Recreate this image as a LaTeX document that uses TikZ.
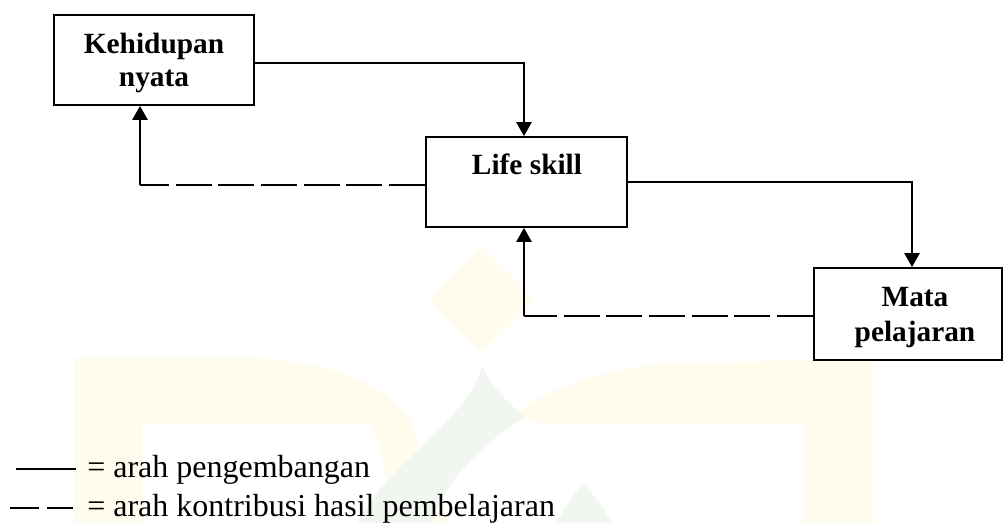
\documentclass[tikz,border=0pt]{standalone}
\usepackage{fontspec}
\setmainfont{Liberation Serif}
\usetikzlibrary{arrows.meta}
\definecolor{wmyellow}{RGB}{255,252,238}
\definecolor{wmgreen}{RGB}{241,247,240}
\tikzset{
  boxnode/.style={draw, line width=1.4pt, rectangle, inner sep=0pt},
  lbl/.style={inner sep=0pt, anchor=base, font=\fontsize{22}{26}\selectfont\bfseries},
  legtext/.style={inner sep=0pt, anchor=base west, font=\fontsize{24}{28}\selectfont},
  conn/.style={line width=1.25pt},
  arr/.style={conn, -{Triangle[length=10.5pt,width=11.5pt]}},
  dashconn/.style={conn, dash pattern=on 27pt off 5pt},
}
\begin{document}
\begin{tikzpicture}[x=0.75pt,y=-0.75pt]
\useasboundingbox (0,0) rectangle (1003,523);
% faint watermark
\fill[wmyellow] (482,247) -- (536,300) -- (482,352) -- (429,300) -- cycle;
\fill[wmyellow] (74,523) -- (74,358) -- (250,358) .. controls (330,360) and (390,385) .. (412,423) -- (142,423) -- (142,523) -- cycle;
\fill[wmyellow] (873,523) -- (873,360) -- (690,362) .. controls (610,365) and (540,390) .. (512,417) -- (540,423) -- (803,423) -- (803,523) -- cycle;
\fill[wmyellow] (412,423) .. controls (420,450) and (440,490) .. (448,523) -- (395,523) .. controls (390,480) and (380,450) .. (370,423) -- cycle;
\fill[wmgreen] (482,365) .. controls (470,420) and (380,470) .. (358,523) -- (430,523) .. controls (450,470) and (500,432) .. (525,417) .. controls (505,400) and (490,385) .. (482,365) -- cycle;
\fill[wmgreen] (582,483) .. controls (572,498) and (562,512) .. (556,523) -- (612,523) .. controls (602,505) and (592,492) .. (582,483) -- cycle;
% boxes
\node[boxnode, minimum width=150pt, minimum height=67.5pt] (K) at (154,60) {};
\node[boxnode, minimum width=150.75pt, minimum height=67.5pt] (L) at (526.5,182) {};
\node[boxnode, minimum width=141pt, minimum height=69pt] (M) at (908,314) {};
% labels
\node[lbl] (k1) at (154,54) {Kehidupan};
\node[lbl] (k2) at (154,87) {nyata};
\node[lbl] (l1) at (527,175) {Life skill};
\node[lbl] (m1) at (915,307) {Mata};
\node[lbl] (m2) at (915,342) {pelajaran};
% connectors
\coordinate (c1) at (140,185);
\coordinate (c2) at (524,316);
\draw[arr] ([yshift=-2.25pt]K.east) -| ([xshift=-1.9pt]L.north);
\draw[arr] (L.east) -| ([xshift=3pt]M.north);
\draw[dashconn] ([yshift=-2.25pt]L.west) -- (c1);
\draw[arr] (c1) -- (c1 |- K.south);
\draw[dashconn] ([yshift=-1.5pt]M.west) -- (c2);
\draw[arr] (c2) -- (c2 |- L.south);
% legend
\coordinate (s1) at (16,469);
\coordinate (s2) at (76,469);
\coordinate (d1) at (10,508);
\coordinate (d2) at (73,508);
\draw[line width=1.1pt] (s1) -- (s2);
\draw[line width=1.1pt, dash pattern=on 21.75pt off 6pt] (d1) -- (d2);
\node[legtext] (t1) at (87,478) {= arah pengembangan};
\node[legtext] (t2) at (87,517) {= arah kontribusi hasil pembelajaran};
\end{tikzpicture}
\end{document}
